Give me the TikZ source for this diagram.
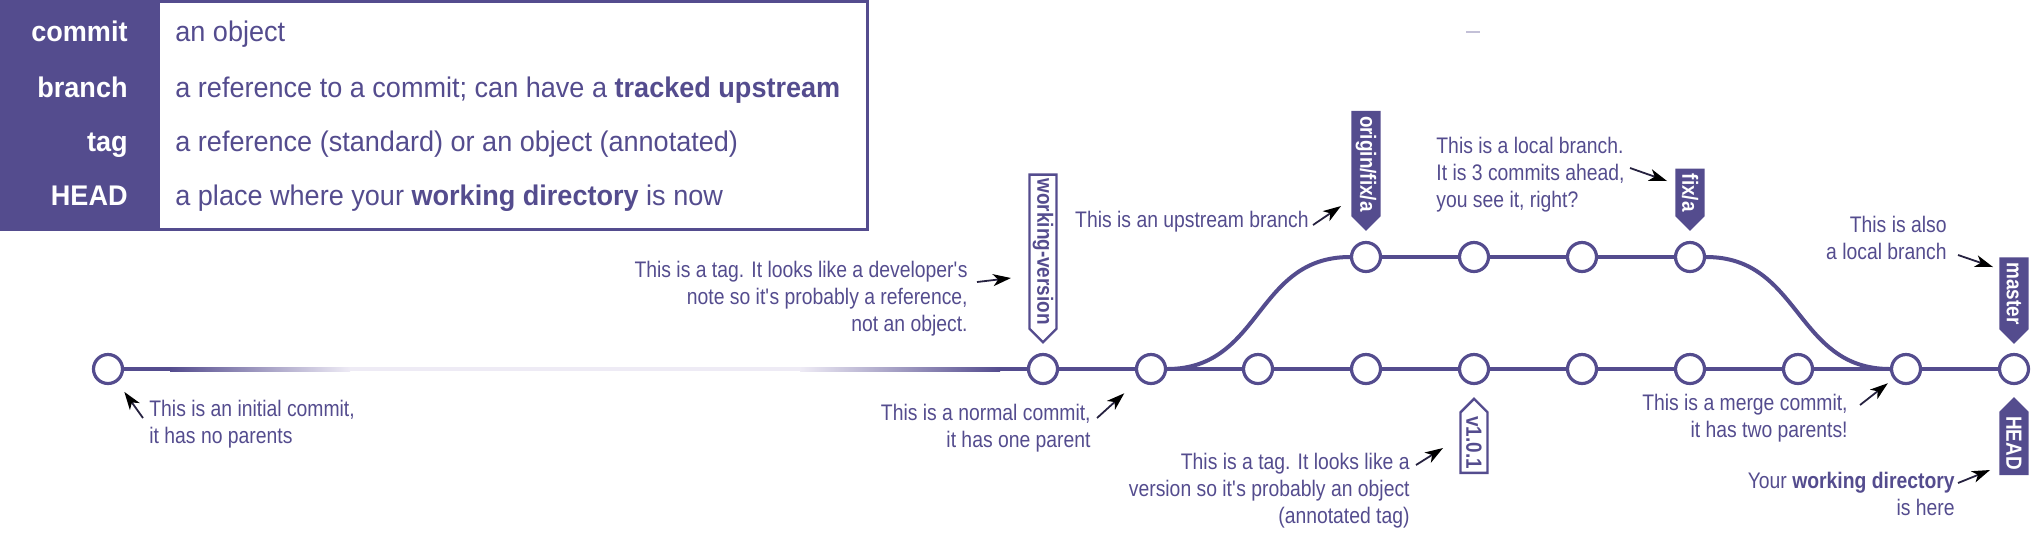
\documentclass[tikz,border=0pt]{standalone}
\usepackage{fontspec}
\setmainfont{Liberation Sans}[FakeStretch=0.86]
\newfontfamily\keyfamily{Liberation Sans}[FakeStretch=0.953]
\usetikzlibrary{shapes.symbols,arrows.meta}
\definecolor{gitpurple}{RGB}{84,76,142}
\definecolor{gitpale}{RGB}{238,235,245}
\newcommand\notefont{\fontsize{11.25}{13.5}\selectfont}
\newcommand\tagfont{\fontsize{11}{13}\selectfont\bfseries}
\newcommand\keyfont{\keyfamily\fontsize{14.2}{17}\selectfont}
\begin{document}
\begin{tikzpicture}[
x=0.5pt, y=-0.5pt,
commit/.style={circle, draw=gitpurple, fill=white, line width=1.6pt, minimum size=14.5pt, inner sep=0pt},
link/.style={draw=gitpurple, line width=2pt},
tagbase/.style={signal, signal pointer angle=90, rotate=-90, line width=1.2pt, draw=gitpurple, font=\tagfont, minimum height=13.5pt, inner xsep=2pt, inner ysep=1pt},
branchdown/.style={tagbase, signal to=east, anchor=east, fill=gitpurple, text=white},
tagdown/.style={tagbase, signal to=east, anchor=east, fill=white, text=gitpurple},
branchup/.style={tagbase, signal to=west, anchor=west, fill=gitpurple, text=white},
tagup/.style={tagbase, signal to=west, anchor=west, fill=white, text=gitpurple},
keyname/.style={font=\keyfont\bfseries, text=white, inner sep=0pt, anchor=base east},
keytext/.style={font=\keyfont, text=gitpurple, inner sep=0pt, anchor=base west},
note/.style={font=\notefont, text=gitpurple, inner sep=0pt},
pointer/.style={draw=gitpurple!45!black, line width=0.9pt, -{Stealth[length=9pt, width=6pt, inset=2.5pt, color=black]}}
]
\useasboundingbox (0,0) rectangle (2032,532);
\fill[gitpurple] (0,0) rectangle (160,231);
\draw[gitpurple, line width=1.5pt] (1.5,1.5) rectangle (867,229.5);
\draw[gitpurple!35, line width=1pt] (1466,32) -- (1480,32);
\node[keyname] (kcommit) at (128,41) {commit};
\node[keyname] (kbranch) at (128,97) {branch};
\node[keyname] (ktag) at (128,151) {tag};
\node[keyname] (khead) at (128,205) {HEAD};
\node[keytext] (dcommit) at (175,41) {an object};
\node[keytext] (dbranch) at (175,97) {a reference to a commit; can have a \textbf{tracked upstream}};
\node[keytext] (dtag) at (175,151) {a reference (standard) or an object (annotated)};
\node[keytext] (dhead) at (175,205) {a place where your \textbf{working directory} is now};
\node[commit] (c0) at (108,369) {};
\node[commit] (c1) at (1043,369) {};
\node[commit] (c2) at (1151,369) {};
\node[commit] (c3) at (1258,369) {};
\node[commit] (c4) at (1366,369) {};
\node[commit] (c5) at (1474,369) {};
\node[commit] (c6) at (1582,369) {};
\node[commit] (c7) at (1690,369) {};
\node[commit] (c8) at (1798,369) {};
\node[commit] (c9) at (1906,369) {};
\node[commit] (c10) at (2014,369) {};
\node[commit] (u1) at (1366,257) {};
\node[commit] (u2) at (1474,257) {};
\node[commit] (u3) at (1582,257) {};
\node[commit] (u4) at (1690,257) {};
\coordinate (fadeA) at (170,369);
\coordinate (fadeB) at (350,369);
\coordinate (fadeC) at (800,369);
\coordinate (fadeD) at (1000,369);
\fill[gitpurple] ([yshift=1pt]c0.east) rectangle ([yshift=-1pt]fadeA);
\shade[left color=gitpurple, right color=gitpale] ([yshift=1pt]fadeA) rectangle ([yshift=-1pt]fadeB);
\fill[gitpale] ([yshift=1pt]fadeB) rectangle ([yshift=-1pt]fadeC);
\shade[left color=gitpale, right color=gitpurple] ([yshift=1pt]fadeC) rectangle ([yshift=-1pt]fadeD);
\fill[gitpurple] ([yshift=1pt]fadeD) rectangle ([yshift=-1pt]c1.west);
\draw[link] (c1) -- (c2) -- (c3) -- (c4) -- (c5) -- (c6) -- (c7) -- (c8) -- (c9) -- (c10);
\draw[link] (u1) -- (u2) -- (u3) -- (u4);
\draw[link] (c2.east) .. controls +(95,0) and +(-95,0) .. (u1.west);
\draw[link] (u4.east) .. controls +(95,0) and +(-95,0) .. (c9.west);
\node[tagdown] (workingversion) at ([yshift=4.5pt]c1.north) {working-version};
\node[branchdown] (originfix) at ([yshift=5pt]u1.north) {origin/fix/a};
\node[branchdown] (fixa) at ([yshift=5pt]u4.north) {fix/a};
\node[branchdown] (master) at ([yshift=4.5pt]c10.north) {master};
\node[branchup] (head) at ([yshift=-6pt]c10.south) {HEAD};
\node[tagup] (version) at ([yshift=-6pt]c5.south) {v1.0.1};
\node[note, align=left, anchor=base west] (ninitial) at (149,443)
{This is an initial commit,\\it has no parents};
\node[note, align=right, anchor=base east] (ndevtag) at (968,331)
{This is a tag. It looks like a developer\textquotesingle s\\note so it\textquotesingle s probably a reference,\\not an object.};
\node[note, align=right, anchor=base east] (nnormal) at (1091,447)
{This is a normal commit,\\it has one parent};
\node[note, align=right, anchor=base east] (nupstream) at (1309,227)
{This is an upstream branch};
\node[note, align=left, anchor=base west] (nlocal) at (1436,207)
{This is a local branch.\\It is 3 commits ahead,\\you see it, right?};
\node[note, align=right, anchor=base east] (nalso) at (1947,259)
{This is also\\a local branch};
\node[note, align=right, anchor=base east] (nmerge) at (1848,437)
{This is a merge commit,\\it has two parents!};
\node[note, align=right, anchor=base east] (nworkdir) at (1955,515)
{Your \textbf{working directory}\\is here};
\node[note, align=right, anchor=base east] (nversion) at (1410,523)
{This is a tag. It looks like a\\version so it\textquotesingle s probably an object\\(annotated tag)};
\coordinate (tinitial) at (143,418);
\coordinate (tdevtag) at (977,282);
\coordinate (tnormal) at (1097,418);
\coordinate (tupstream) at (1313,225);
\coordinate (tlocal) at (1630,168);
\coordinate (talso) at (1958,255);
\coordinate (tmerge) at (1860,405);
\coordinate (tworkdir) at (1958,483);
\coordinate (tversion) at (1416,465);
\draw[pointer, shorten >=6pt] (tinitial) -- (c0);
\draw[pointer] (tdevtag) -- ([shift={(-32,-91)}]c1.center);
\draw[pointer, shorten >=10pt] (tnormal) -- (c2);
\draw[pointer] (tupstream) -- ([shift={(-25,-51)}]u1.center);
\draw[pointer] (tlocal) -- ([shift={(-23,-76)}]u4.center);
\draw[pointer] (talso) -- ([shift={(-21,-102)}]c10.center);
\draw[pointer, shorten >=3.5pt] (tmerge) -- (c9);
\draw[pointer] (tworkdir) -- ([shift={(-24,101)}]c10.center);
\draw[pointer] (tversion) -- ([shift={(-31,79)}]c5.center);
\end{tikzpicture}
\end{document}
